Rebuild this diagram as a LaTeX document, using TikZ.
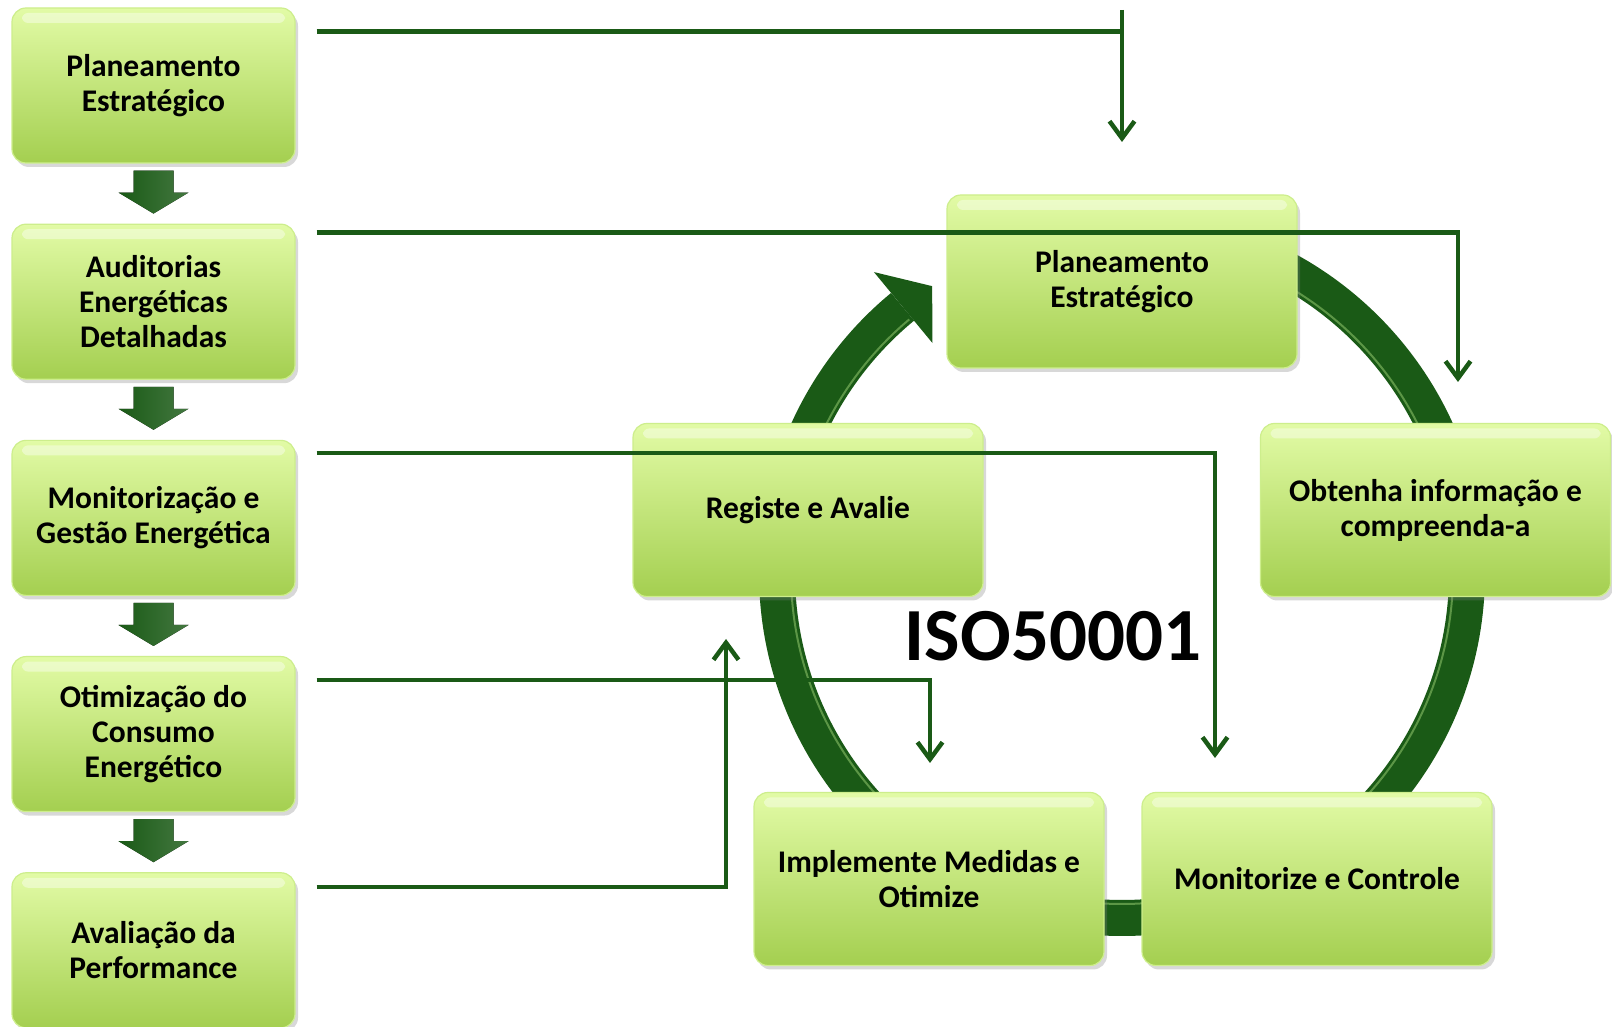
\documentclass[tikz,border=0pt]{standalone}
\usepackage{fontspec}
\setmainfont{Carlito}
\usetikzlibrary{positioning,shadows,calc,arrows.meta}
\definecolor{leafdark}{RGB}{26,90,22}
\definecolor{leaflight}{RGB}{92,150,70}
\definecolor{boxtop}{RGB}{226,251,166}
\definecolor{boxbot}{RGB}{164,207,80}
\definecolor{boxrim}{RGB}{205,238,140}
\tikzset{
  basic/.style  = {draw=boxrim, line width=1.2pt, rounded corners=14pt,
                   top color=boxtop, bottom color=boxbot, align=center,
                   drop shadow={opacity=0.3, shadow xshift=3pt, shadow yshift=-4pt},
                   font=\fontsize{31.5}{35}\selectfont\bfseries, inner sep=0pt,
                   path picture={\fill[white, opacity=0.4, rounded corners=6pt]
                     ([xshift=10pt, yshift=-5pt]path picture bounding box.north west) rectangle
                     ([xshift=-10pt, yshift=-15pt]path picture bounding box.north east);}},
  stage/.style  = {basic, minimum width=283pt, minimum height=155pt},
  phase/.style  = {basic, minimum width=350pt, minimum height=173pt},
  link/.style   = {draw=leafdark, line width=4.5pt},
  downarrow/.style = {left color=leafdark, right color=leafdark!82!white, shading angle=90}
}

\begin{document}
\begin{tikzpicture}[x=1pt, y=1pt, >={Straight Barb[length=17pt, width=25pt]}]
\useasboundingbox (0,0) rectangle (1612,1027);
\fill[white] (0,0) rectangle (1612,1027);

% the cycle ring behind the boxes
\coordinate (ctr) at (1122,454);
\draw[leafdark, line width=36pt] ([shift={(90:345)}]ctr) arc[start angle=90, end angle=-230.5, radius=345];
\draw[leaflight, line width=2pt] ([shift={(90:331)}]ctr) arc[start angle=90, end angle=-230, radius=331];
\fill[leafdark] ([shift={(129.5:298)}]ctr) -- ([shift={(123.5:344)}]ctr) -- ([shift={(129.5:390)}]ctr) -- cycle;

% left column, top to bottom
\node[stage] (p1) at (153.5,941.5) {Planeamento\\Estratégico};
\node[stage, below=60pt of p1] (p2) {Auditorias\\Energéticas\\Detalhadas};
\node[stage, below=60pt of p2] (p3) {Monitorização e\\Gestão Energética};
\node[stage, below=60pt of p3] (p4) {Otimização do\\Consumo\\Energético};
\node[stage, below=60pt of p4] (p5) {Avaliação da\\Performance};

% block arrows between the steps
\foreach \a/\b in {p1/p2,p2/p3,p3/p4,p4/p5}
  \fill[downarrow] ($(\a.south)+(-20,-7)$) -- ++(40,0) -- ++(0,-22) -- ++(15,0)
    -- ++(-35,-21) -- ++(-35,21) -- ++(15,0) -- cycle;

% ISO 50001 cycle
\node[phase] (c1) at (1122,745.5) {Planeamento\\Estratégico};
\node[phase] (c2) at (1435.5,517) {Obtenha informação e\\compreenda-a};
\node[phase] (c3) at (1317,148) {Monitorize e Controle};
\node[phase] (c4) at (929,148) {Implemente Medidas e\\Otimize};
\node[phase] (c5) at (808,517) {Registe e Avalie};
\node[font=\fontsize{75}{80}\selectfont\bfseries, inner sep=0pt] (iso) at (1053,391) {ISO50001};

% lines from each step to its place in the cycle
\foreach \i/\dy in {1/24,2/9,3/13,4/24,5/15}
  \coordinate (s\i) at ($(p\i.north east)+(21,-\dy)$);
\coordinate (t1a) at (1122,1017);
\coordinate (t1) at (1122,885);
\coordinate (t2) at (1458,645);
\coordinate (t3) at (1215,269);
\coordinate (t4) at (930,264);
\coordinate (t5) at (726,388);

\draw[link] (s1) -- (s1 -| t1);
\draw[link, ->] (t1a) -- (t1);
\draw[link, ->] (s2) -| (t2);
\draw[link, ->] (s3) -| (t3);
\draw[link, ->] (s4) -| (t4);
\draw[link, ->] (s5) -| (t5);
\end{tikzpicture}
\end{document}
